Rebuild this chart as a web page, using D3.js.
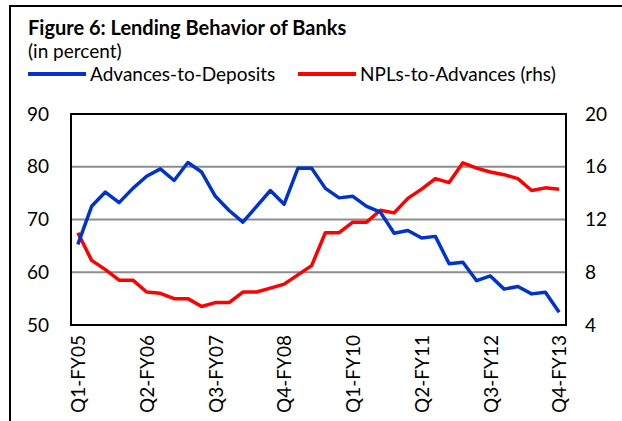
<!DOCTYPE html>
<html>
<head>
<meta charset="utf-8">
<script src="https://cdn.jsdelivr.net/npm/d3@7"></script>
<style>
  html, body { margin: 0; padding: 0; background: #fff; }
  svg { display: block; font-family: Lato, "Open Sans", sans-serif; }
</style>
</head>
<body>
<svg id="chart" width="622" height="421"></svg>
<script>
const quarters = [
  'Q1-FY05', 'Q2-FY05', 'Q3-FY05', 'Q4-FY05',
  'Q1-FY06', 'Q2-FY06', 'Q3-FY06', 'Q4-FY06',
  'Q1-FY07', 'Q2-FY07', 'Q3-FY07', 'Q4-FY07',
  'Q1-FY08', 'Q2-FY08', 'Q3-FY08', 'Q4-FY08',
  'Q1-FY09', 'Q2-FY09', 'Q3-FY09', 'Q4-FY09',
  'Q1-FY10', 'Q2-FY10', 'Q3-FY10', 'Q4-FY10',
  'Q1-FY11', 'Q2-FY11', 'Q3-FY11', 'Q4-FY11',
  'Q1-FY12', 'Q2-FY12', 'Q3-FY12', 'Q4-FY12',
  'Q1-FY13', 'Q2-FY13', 'Q3-FY13', 'Q4-FY13'
];
const shownLabels = ['Q1-FY05', 'Q2-FY06', 'Q3-FY07', 'Q4-FY08', 'Q1-FY10', 'Q2-FY11', 'Q3-FY12', 'Q4-FY13'];

// Advances-to-Deposits (left axis)
const advancesToDeposits = [
  65.3, 72.5, 75.2, 73.2, 75.9, 78.2, 79.6, 77.4, 80.8, 79.0,
  74.4, 71.7, 69.5, 72.5, 75.5, 72.9, 79.7, 79.7, 75.9, 74.1,
  74.4, 72.5, 71.4, 67.4, 67.9, 66.5, 66.8, 61.6, 61.9, 58.4,
  59.3, 56.8, 57.3, 55.9, 56.2, 52.4
];
// NPLs-to-Advances (right axis)
const nplsToAdvances = [
  11.0, 8.9, 8.2, 7.4, 7.4, 6.5, 6.4, 6.0, 6.0, 5.4,
  5.7, 5.7, 6.5, 6.5, 6.8, 7.1, 7.8, 8.5, 11.0, 11.0,
  11.8, 11.8, 12.7, 12.5, 13.6, 14.3, 15.1, 14.8, 16.3, 15.9,
  15.6, 15.4, 15.1, 14.2, 14.4, 14.3
];

const leftTicks = [50, 60, 70, 80, 90];
const rightTicks = [4, 8, 12, 16, 20];

const blue = '#0033cc';
const red = '#ff0000';

const plot = { left: 71, right: 566, top: 114, bottom: 325 };

const svg = d3.select('#chart');

// outer frame (top and left edges only visible)
svg.append('path')
  .attr('d', 'M10,421 L10,6 L622,6')
  .attr('fill', 'none')
  .attr('stroke', '#000')
  .attr('stroke-width', 2);

svg.append('text')
  .attr('x', 28)
  .attr('y', 35)
  .attr('font-size', '20px')
  .attr('font-weight', 'bold')
  .text('Figure 6: Lending Behavior of Banks');

svg.append('text')
  .attr('x', 28)
  .attr('y', 58)
  .attr('font-size', '19px')
  .text('(in percent)');

// legend
const legend = [
  { label: 'Advances-to-Deposits', color: blue, x: 28 },
  { label: 'NPLs-to-Advances (rhs)', color: red, x: 298 }
];
legend.forEach(l => {
  svg.append('line')
    .attr('x1', l.x).attr('x2', l.x + 58)
    .attr('y1', 74).attr('y2', 74)
    .attr('stroke', l.color)
    .attr('stroke-width', 4);
  svg.append('text')
    .attr('x', l.x + 62)
    .attr('y', 81)
    .attr('font-size', '19px')
    .text(l.label);
});

const x = d3.scalePoint()
  .domain(quarters)
  .range([plot.left, plot.right])
  .padding(0.5);

const yLeft = d3.scaleLinear()
  .domain([50, 90])
  .range([plot.bottom, plot.top]);

const yRight = d3.scaleLinear()
  .domain([4, 20])
  .range([plot.bottom, plot.top]);

// gridlines
svg.append('g')
  .selectAll('line')
  .data(leftTicks.filter(t => t !== 50 && t !== 90))
  .enter()
  .append('line')
  .attr('x1', plot.left).attr('x2', plot.right)
  .attr('y1', d => yLeft(d)).attr('y2', d => yLeft(d))
  .attr('stroke', '#8c8c8c')
  .attr('stroke-width', 2);

// left axis
svg.append('g')
  .attr('transform', `translate(${plot.left},0)`)
  .call(d3.axisLeft(yLeft).tickValues(leftTicks).tickSize(0).tickPadding(22))
  .call(g => g.select('.domain').remove())
  .call(g => g.selectAll('text').attr('font-size', '19px').attr('font-family', 'Lato, sans-serif').attr('fill', '#000'));

// right axis
svg.append('g')
  .attr('transform', `translate(${plot.right},0)`)
  .call(d3.axisRight(yRight).tickValues(rightTicks).tickSize(0).tickPadding(19))
  .call(g => g.select('.domain').remove())
  .call(g => g.selectAll('text').attr('font-size', '19px').attr('font-family', 'Lato, sans-serif').attr('fill', '#000'));

// x axis labels
svg.append('g')
  .attr('transform', `translate(0,${plot.bottom})`)
  .call(d3.axisBottom(x).tickValues(shownLabels).tickSize(0).tickPadding(0))
  .call(g => g.select('.domain').remove())
  .call(g => g.selectAll('text')
    .attr('font-size', '19px')
    .attr('font-family', 'Lato, sans-serif')
    .attr('fill', '#000')
    .attr('text-anchor', 'end')
    .attr('dy', '0.35em')
    .attr('transform', 'translate(0,10) rotate(-90)')
    .attr('x', 0)
    .attr('y', 0));

// plot border
svg.append('rect')
  .attr('x', plot.left)
  .attr('y', plot.top)
  .attr('width', plot.right - plot.left)
  .attr('height', plot.bottom - plot.top)
  .attr('fill', 'none')
  .attr('stroke', '#000')
  .attr('stroke-width', 2);

const lineLeft = d3.line()
  .x((d, i) => x(quarters[i]))
  .y(d => yLeft(d));

const lineRight = d3.line()
  .x((d, i) => x(quarters[i]))
  .y(d => yRight(d));

svg.append('path')
  .datum(nplsToAdvances)
  .attr('fill', 'none')
  .attr('stroke', red)
  .attr('stroke-width', 3.5)
  .attr('stroke-linejoin', 'round')
  .attr('d', lineRight);

svg.append('path')
  .datum(advancesToDeposits)
  .attr('fill', 'none')
  .attr('stroke', blue)
  .attr('stroke-width', 3.5)
  .attr('stroke-linejoin', 'round')
  .attr('d', lineLeft);
</script>
</body>
</html>
